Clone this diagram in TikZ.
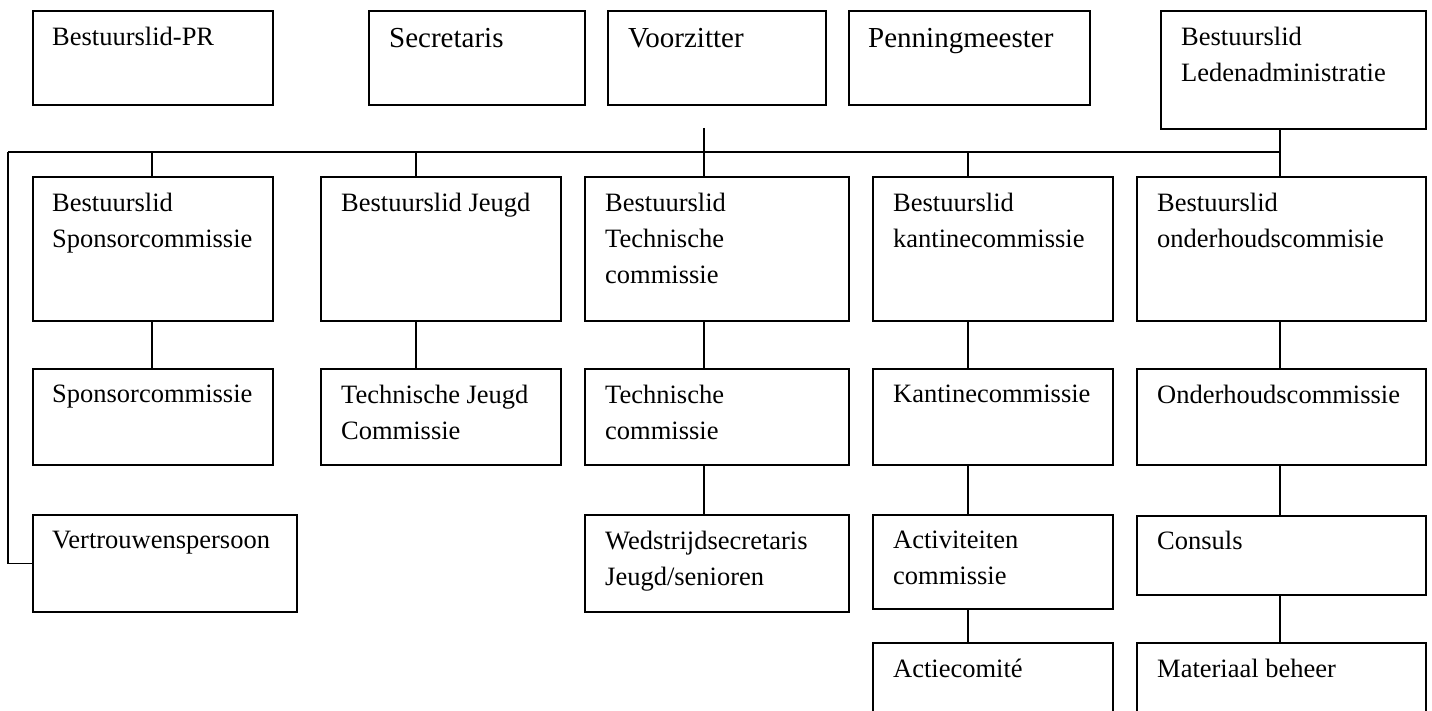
\documentclass[tikz,border=0pt]{standalone}
\usepackage{fontspec}
\setmainfont{Liberation Serif}
\tikzset{
  orgbox/.style={draw, line width=1.6pt, rectangle, inner sep=0pt, anchor=north west},
  txt/.style={inner sep=0pt, anchor=north west, align=left, font=\fontsize{26.5}{36}\selectfont},
  txtbig/.style={inner sep=0pt, anchor=north west, align=left, font=\fontsize{29}{38}\selectfont},
  conn/.style={line width=1.4pt}
}
\begin{document}
\begin{tikzpicture}[x=1pt,y=-1pt]
\useasboundingbox[fill=white] (0,0) rectangle (1432,711);
% top row
\node[orgbox, minimum width=240pt, minimum height=94pt] (pr) at (32,10) {};
\node[orgbox, minimum width=216pt, minimum height=94pt] (sec) at (368,10) {};
\node[orgbox, minimum width=218pt, minimum height=94pt] (voor) at (607,10) {};
\node[orgbox, minimum width=241pt, minimum height=94pt] (penn) at (848,10) {};
\node[orgbox, minimum width=265pt, minimum height=118pt] (leden) at (1160,10) {};
% row 2
\node[orgbox, minimum width=240pt, minimum height=144pt] (bsp) at (32,176) {};
\node[orgbox, minimum width=240pt, minimum height=144pt] (bjeugd) at (320,176) {};
\node[orgbox, minimum width=264pt, minimum height=144pt] (btech) at (584,176) {};
\node[orgbox, minimum width=240pt, minimum height=144pt] (bkant) at (872,176) {};
\node[orgbox, minimum width=289pt, minimum height=144pt] (bonder) at (1136,176) {};
% row 3
\node[orgbox, minimum width=240pt, minimum height=96pt] (sp) at (32,368) {};
\node[orgbox, minimum width=240pt, minimum height=96pt] (tj) at (320,368) {};
\node[orgbox, minimum width=264pt, minimum height=96pt] (tc) at (584,368) {};
\node[orgbox, minimum width=240pt, minimum height=96pt] (kc) at (872,368) {};
\node[orgbox, minimum width=289pt, minimum height=96pt] (oc) at (1136,368) {};
% row 4
\node[orgbox, minimum width=264pt, minimum height=97pt] (vp) at (32,514) {};
\node[orgbox, minimum width=264pt, minimum height=97pt] (ws) at (584,514) {};
\node[orgbox, minimum width=240pt, minimum height=94pt] (ac) at (872,514) {};
\node[orgbox, minimum width=289pt, minimum height=79pt] (co) at (1136,515) {};
% row 5 (cut off by page bottom)
\node[orgbox, minimum width=240pt, minimum height=90pt] (acm) at (872,642) {};
\node[orgbox, minimum width=289pt, minimum height=90pt] (mb) at (1136,642) {};

% texts
\node[txt] (tpr) at (52,27) {Bestuurslid-PR};
\node[txtbig] (tsec) at (389,28) {Secretaris};
\node[txtbig] (tvoor) at (628,28) {Voorzitter};
\node[txtbig] (tpenn) at (868,28) {Penningmeester};
\node[txt] (tleden) at (1181,27) {Bestuurslid\\Ledenadministratie};
\node[txt] (tbsp) at (52,193) {Bestuurslid\\Sponsorcommissie};
\node[txt] (tbjeugd) at (341,193) {Bestuurslid Jeugd};
\node[txt] (tbtech) at (605,193) {Bestuurslid\\Technische\\commissie};
\node[txt] (tbkant) at (893,193) {Bestuurslid\\kantinecommissie};
\node[txt] (tbonder) at (1157,193) {Bestuurslid\\onderhoudscommisie};
\node[txt] (tsp) at (52,385) {Sponsorcommissie};
\node[txt] (ttj) at (341,385) {Technische Jeugd\\Commissie};
\node[txt] (ttc) at (605,385) {Technische\\commissie};
\node[txt] (tkc) at (893,385) {Kantinecommissie};
\node[txt] (toc) at (1157,385) {Onderhoudscommissie};
\node[txt] (tvp) at (52,531) {Vertrouwenspersoon};
\node[txt] (tws) at (605,531) {Wedstrijdsecretaris\\Jeugd/senioren};
\node[txt] (tac) at (893,531) {Activiteiten\\commissie};
\node[txt] (tco) at (1157,531) {Consuls};
\node[txt] (tacm) at (893,659) {Actiecomit\'e};
\node[txt] (tmb) at (1157,659) {Materiaal beheer};

% connector coordinates
\coordinate (barL) at (8,152);
\coordinate (barR) at (1280,152);
\coordinate (vstub) at (704,128);
\coordinate (c1) at (152,152);
\coordinate (c2) at (416,152);
\coordinate (c3) at (704,152);
\coordinate (c4) at (968,152);

% connectors
\draw[conn] (barL) -- (barR);
\draw[conn] (barR |- leden.south) -- (barR |- bonder.north);
\draw[conn] (vstub) -- (vstub |- btech.north);
\draw[conn] (c1) -- (c1 |- bsp.north);
\draw[conn] (c2) -- (c2 |- bjeugd.north);
\draw[conn] (c4) -- (c4 |- bkant.north);
\draw[conn] (barL) |- (vp.west);

\draw[conn] (c1 |- bsp.south) -- (c1 |- sp.north);
\draw[conn] (c2 |- bjeugd.south) -- (c2 |- tj.north);
\draw[conn] (c3 |- btech.south) -- (c3 |- tc.north);
\draw[conn] (c4 |- bkant.south) -- (c4 |- kc.north);
\draw[conn] (barR |- bonder.south) -- (barR |- oc.north);

\draw[conn] (c3 |- tc.south) -- (c3 |- ws.north);
\draw[conn] (c4 |- kc.south) -- (c4 |- ac.north);
\draw[conn] (barR |- oc.south) -- (barR |- co.north);

\draw[conn] (c4 |- ac.south) -- (c4 |- acm.north);
\draw[conn] (barR |- co.south) -- (barR |- mb.north);
\end{tikzpicture}
\end{document}
